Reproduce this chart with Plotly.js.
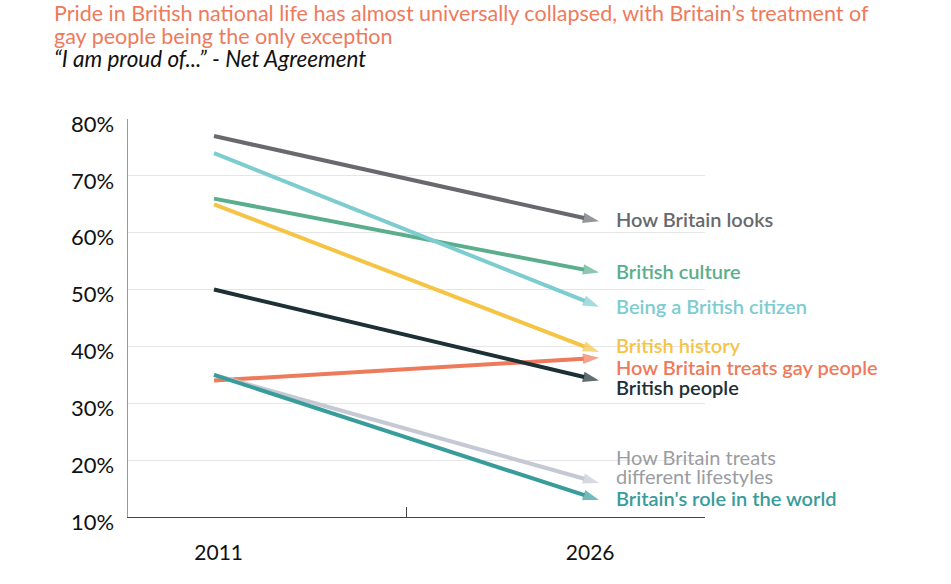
<!DOCTYPE html>
<html>
<head>
<meta charset="utf-8">
<script src="https://cdn.plot.ly/plotly-3.0.1.min.js"></script>
<style>html,body{margin:0;padding:0;background:#fff;}#chart{width:951px;height:584px;}</style>
</head>
<body>
<div id="chart"></div>
<script>
// ---- data ----
var years = ['2011', '2026'];
var seriesNames = [
  'How Britain looks',
  'British culture',
  'Being a British citizen',
  'British history',
  'How Britain treats gay people',
  'British people',
  'How Britain treats<br>different lifestyles',
  "Britain's role in the world"
];
var values2011 = [77, 66, 74, 65, 34, 50, 35, 35];
var values2026 = [62, 53, 47, 39, 38, 34, 16, 13];
var yTickVals = [10, 20, 30, 40, 50, 60, 70, 80];
var yTickText = ['10%', '20%', '30%', '40%', '50%', '60%', '70%', '80%'];
var titleLines = [
  'Pride in British national life has almost universally collapsed, with Britain’s treatment of',
  'gay people being the only exception'
];
var subtitle = '“I am proud of...” - Net Agreement';

// ---- styles ----
var lineColors = ['#67696e', '#5aae8c', '#7dccd0', '#f5c444', '#ee7a5c', '#1c3036', '#c5c9d3', '#389c9b'];
var labelColors = ['#67696e', '#5aae8c', '#7dccd0', '#f5c444', '#ee7a5c', '#1c3036', '#9a9ca1', '#389c9b'];
var labelShift = [2, 2, 1, 7, -9, -6, 16, 2];
var labelWeights = [600, 600, 600, 600, 600, 600, 'normal', 600];
var labelSizes = [20, 20, 20, 20, 20, 20, 20, 20];
var lineGap = 19;
var tickPos = [0.012, 0.977];

var xIdx = [0, 1];
var traces = [];
var annotations = [];
for (var i = 0; i < seriesNames.length; i++) {
  traces.push({
    x: xIdx,
    y: [values2011[i], values2026[i]],
    type: 'scatter',
    mode: 'lines+markers',
    line: {color: lineColors[i], width: 4},
    marker: {symbol: ['circle', 'arrow'], size: [0, 17], angleref: 'previous', color: lineColors[i], line: {width: 0}},
    hoverinfo: 'skip',
    showlegend: false
  });
  var parts = seriesNames[i].split('<br>');
  for (var k = 0; k < parts.length; k++) {
    annotations.push({
      x: 1, y: values2026[i], xref: 'x', yref: 'y',
      text: parts[k], showarrow: false,
      xanchor: 'left', yanchor: 'middle', align: 'left',
      xshift: 15, yshift: labelShift[i] + ((parts.length - 1) / 2 - k) * lineGap,
      font: {family: 'Lato', size: labelSizes[i], color: labelColors[i], weight: labelWeights[i]}
    });
  }
}

// title & subtitle as paper annotations (plot area: top 119px, height 398px)
var headY = [13, 36];
for (var t = 0; t < titleLines.length; t++) {
  annotations.push({
    xref: 'paper', yref: 'paper', x: (52 - 128) / 577, y: 1 + (119 - headY[t]) / 398,
    xanchor: 'left', yanchor: 'middle', showarrow: false, text: titleLines[t],
    font: {family: 'Lato', size: 21.5, color: '#ee7a5c'}
  });
}
annotations.push({
  xref: 'paper', yref: 'paper', x: (52 - 128) / 577, y: 1 + (119 - 58) / 398,
  xanchor: 'left', yanchor: 'middle', showarrow: false,
  text: '<i>' + subtitle + '</i>',
  font: {family: 'Lato', size: 22.5, color: '#111'}
});

var layout = {
  width: 951, height: 584,
  margin: {l: 128, r: 246, t: 119, b: 67},
  paper_bgcolor: '#fff', plot_bgcolor: '#fff',
  annotations: annotations,
  xaxis: {
    range: [-0.2234, 1.2753],
    tickvals: tickPos, ticktext: years,
    ticks: '', showgrid: false, zeroline: false,
    showline: true, linecolor: '#444', linewidth: 1.3,
    tickfont: {family: 'Lato', size: 21, color: '#111'},
    ticklabelstandoff: 16,
    minor: {tickvals: [0.5], ticks: 'inside', ticklen: 10, tickcolor: '#444', tickwidth: 1, showgrid: false},
    fixedrange: true
  },
  yaxis: {
    range: [10, 80],
    tickvals: yTickVals, ticktext: yTickText,
    ticks: '', showgrid: true, gridcolor: '#e6e6e6', gridwidth: 1, zeroline: false,
    showline: true, linecolor: '#9a9a9a', linewidth: 1.5,
    tickfont: {family: 'Lato', size: 22, color: '#111'},
    ticklabelstandoff: 8,
    ticklabelshift: 5,
    fixedrange: true
  }
};

Plotly.newPlot('chart', traces, layout, {displayModeBar: false, staticPlot: true});
</script>
</body>
</html>
